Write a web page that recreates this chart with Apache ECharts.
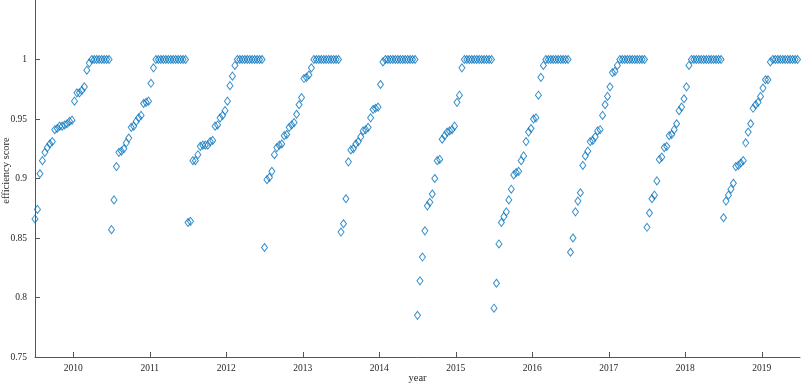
<!DOCTYPE html>
<html><head><meta charset="utf-8">
<script src="https://cdn.jsdelivr.net/npm/echarts@6/dist/echarts.min.js"></script>
<style>html,body{margin:0;padding:0;background:#fff}#c{width:803px;height:388px}</style>
</head><body><div id="c"></div>
<script>
const years = [2010,2011,2012,2013,2014,2015,2016,2017,2018,2019];
const yTicks = [0.75,0.8,0.85,0.9,0.95,1];
const s2010 = [0.866,0.874,0.904,0.915,0.922,0.926,0.929,0.931,0.941,0.942,0.944,0.944,0.945,0.946,0.948,0.949,0.965,0.972,0.972,0.974,0.977,0.991,0.997,1,1,1,1,1,1,1,1];
const s2011 = [0.857,0.882,0.910,0.922,0.923,0.925,0.930,0.934,0.943,0.944,0.948,0.951,0.953,0.963,0.964,0.965,0.980,0.993,1,1,1,1,1,1,1,1,1,1,1,1,1];
const s2012 = [0.863,0.864,0.915,0.915,0.920,0.927,0.928,0.928,0.928,0.931,0.932,0.944,0.945,0.951,0.953,0.957,0.965,0.978,0.986,0.995,1,1,1,1,1,1,1,1,1,1,1];
const s2013 = [0.842,0.899,0.901,0.906,0.920,0.926,0.928,0.929,0.936,0.937,0.943,0.945,0.947,0.954,0.962,0.968,0.984,0.985,0.987,0.993,1,1,1,1,1,1,1,1,1,1,1];
const s2014 = [0.855,0.862,0.883,0.914,0.924,0.925,0.929,0.931,0.935,0.940,0.941,0.943,0.951,0.958,0.959,0.960,0.979,0.998,1,1,1,1,1,1,1,1,1,1,1,1,1];
const s2015 = [0.785,0.814,0.834,0.856,0.877,0.880,0.887,0.900,0.915,0.916,0.933,0.936,0.939,0.940,0.941,0.944,0.964,0.970,0.993,1,1,1,1,1,1,1,1,1,1,1,1];
const s2016 = [0.791,0.812,0.845,0.863,0.868,0.872,0.882,0.891,0.903,0.905,0.906,0.915,0.919,0.931,0.939,0.942,0.950,0.951,0.970,0.985,0.995,1,1,1,1,1,1,1,1,1,1];
const s2017 = [0.838,0.850,0.872,0.881,0.888,0.911,0.919,0.923,0.931,0.932,0.935,0.940,0.941,0.953,0.962,0.969,0.977,0.989,0.990,0.995,1,1,1,1,1,1,1,1,1,1,1];
const s2018 = [0.859,0.871,0.883,0.886,0.898,0.916,0.918,0.926,0.927,0.936,0.937,0.941,0.946,0.957,0.960,0.967,0.977,0.995,1,1,1,1,1,1,1,1,1,1,1,1,1];
const s2019 = [0.867,0.881,0.886,0.891,0.896,0.910,0.911,0.913,0.915,0.930,0.939,0.946,0.959,0.962,0.964,0.969,0.976,0.983,0.983,0.998,1,1,1,1,1,1,1,1,1,1,1];
const groups = [s2010,s2011,s2012,s2013,s2014,s2015,s2016,s2017,s2018,s2019];

const pts = [];
groups.forEach((g, k) => {
  g.forEach((v, i) => { pts.push([years[k] - 0.5 + i / g.length, v]); });
});

const font = 'Liberation Serif';
const chart = echarts.init(document.getElementById('c'), null, {renderer: 'canvas'});
chart.setOption({
  animation: false,
  backgroundColor: '#fff',
  grid: {left: 35, right: 3, top: 0, bottom: 31, containLabel: false, outerBoundsMode: 'none'},
  xAxis: {
    type: 'value', min: 2009.5, max: 2019.5,
    name: 'year', nameLocation: 'middle', nameGap: 16, nameMoveOverlap: false,
    nameTextStyle: {fontFamily: font, fontSize: 10.5, color: '#262626'},
    splitLine: {show: false},
    axisLine: {lineStyle: {color: '#555', width: 1}},
    axisTick: {inside: true, length: 5, lineStyle: {color: '#555'}, customValues: years},
    axisLabel: {fontFamily: font, fontSize: 9.5, color: '#262626', margin: 6, customValues: years, formatter: v => String(v)}
  },
  yAxis: {
    type: 'value', min: 0.75, max: 1.05, interval: 0.05,
    name: 'efficiency score', nameLocation: 'middle', nameGap: 23, nameRotate: 90, nameMoveOverlap: false,
    nameTextStyle: {fontFamily: font, fontSize: 10.5, color: '#262626', padding: [0, 0, 0, 16]},
    splitLine: {show: false},
    axisLine: {lineStyle: {color: '#555', width: 1}},
    axisTick: {inside: true, length: 5, lineStyle: {color: '#555'}, customValues: yTicks},
    axisLabel: {fontFamily: font, fontSize: 9.5, color: '#262626', margin: 8, customValues: yTicks,
      formatter: v => String(+v.toFixed(2))}
  },
  series: [{
    type: 'scatter',
    data: pts,
    symbol: 'diamond',
    symbolSize: [6, 8],
    itemStyle: {color: 'rgba(255,255,255,0)', borderColor: '#0072BD', borderWidth: 1}
  }]
});
</script></body></html>
